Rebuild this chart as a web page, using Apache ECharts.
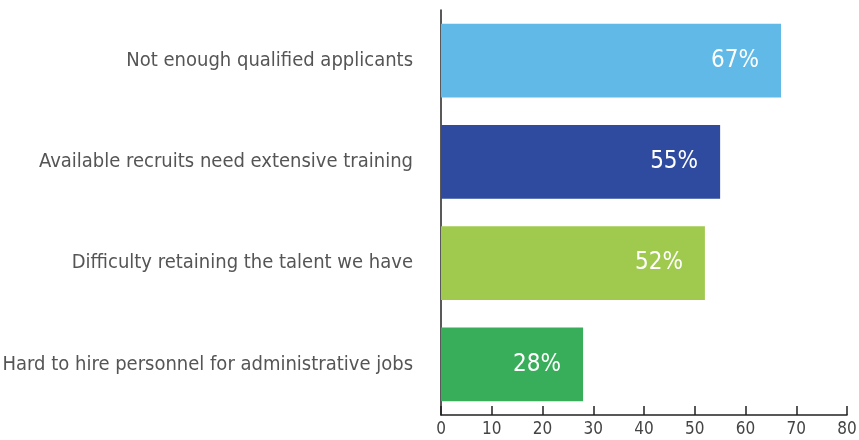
<!DOCTYPE html>
<html lang="en">
<head>
    <meta charset="UTF-8">
    <title>Hiring challenges</title>
    <script src="https://cdn.jsdelivr.net/npm/echarts@6/dist/echarts.min.js"></script>
</head>
<body style="margin:0;">
<div id="main" style="width: 859px;height:440px;"></div>
<script type="text/javascript">
    // categories, top to bottom
    var categories = [
        'Not enough qualified applicants',
        'Available recruits need extensive training',
        'Difficulty retaining the talent we have',
        'Hard to hire personnel for administrative jobs'
    ];
    var values = [67, 55, 52, 28];
    var colors = ['#60b9e7', '#2f4b9f', '#9fca4d', '#38ad5a'];
    var xTicks = [0, 10, 20, 30, 40, 50, 60, 70, 80];

    var font = '"DejaVu Sans Condensed", "Liberation Sans Narrow", Roboto, sans-serif';

    var barData = [];
    for (var i = 0; i < values.length; i++) {
        barData.push({value: values[i], itemStyle: {color: colors[i]}});
    }

    var myChart = echarts.init(document.getElementById('main'));
    myChart.setOption({
        animation: false,
        grid: {left: 441, right: 12, top: 10, bottom: 25, containLabel: false, outerBoundsMode: 'none'},
        xAxis: {
            type: 'value',
            min: xTicks[0],
            max: xTicks[xTicks.length - 1],
            interval: 10,
            splitLine: {show: false},
            axisLine: {show: true, lineStyle: {color: '#222', width: 1.5}},
            axisTick: {show: true, inside: true, length: 9, lineStyle: {color: '#222', width: 1.5}},
            axisLabel: {color: '#444', fontSize: 17, fontFamily: font, margin: 6}
        },
        yAxis: {
            type: 'category',
            inverse: true,
            data: categories,
            axisLine: {show: true, lineStyle: {color: '#222', width: 1.5}},
            axisTick: {show: false},
            axisLabel: {color: '#555', fontSize: 20, fontFamily: font, margin: 28}
        },
        series: [{
            type: 'bar',
            data: barData,
            barCategoryGap: '27%',
            label: {
                show: true,
                position: 'insideRight',
                distance: 22,
                color: '#fff',
                fontSize: 24,
                fontFamily: font,
                formatter: '{c}%'
            }
        }]
    });
</script>
</body>
</html>
